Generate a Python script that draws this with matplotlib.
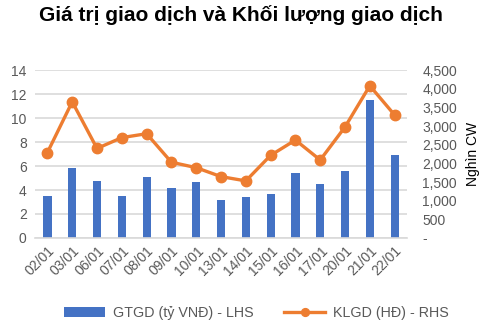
import matplotlib
matplotlib.use("Agg")
import matplotlib.pyplot as plt
from matplotlib.ticker import FuncFormatter, MultipleLocator

plt.rcParams['font.family'] = ['Liberation Sans', 'DejaVu Sans']

dates = ["02/01", "03/01", "06/01", "07/01", "08/01", "09/01", "10/01", "13/01",
         "14/01", "15/01", "16/01", "17/01", "20/01", "21/01", "22/01"]
gtgd = [3.5, 5.8, 4.75, 3.5, 5.05, 4.15, 4.67, 3.14, 3.42, 3.64, 5.42, 4.47, 5.58, 11.5, 6.92]
klgd = [2290, 3650, 2400, 2690, 2795, 2030, 1885, 1645, 1530, 2215, 2625, 2090, 2975, 4080, 3295]

bar_color = "#4472C4"
line_color = "#ED7D31"
text_color = "#595959"
grid_color = "#D9D9D9"

fig = plt.figure(figsize=(4.96, 3.26), dpi=100)
ax = fig.add_axes([0.0706, 0.27, 0.75, 0.515])
ax2 = ax.twinx()

x = list(range(len(dates)))
bars = ax.bar(x, gtgd, width=0.33, color=bar_color, zorder=2,
              label="GTGD (tỷ VNĐ) - LHS")
line, = ax2.plot(x, klgd, color=line_color, lw=2.4, marker="o", ms=7.5,
                 zorder=3, label="KLGD (HĐ) - RHS")

ax.set_xlim(-0.5, len(dates) - 0.5)
ax.set_ylim(0, 14)
ax.yaxis.set_major_locator(MultipleLocator(2))
ax2.set_ylim(0, 4500)
ax2.yaxis.set_major_locator(MultipleLocator(500))
ax2.yaxis.set_major_formatter(FuncFormatter(lambda v, p: "-" if v == 0 else f"{int(v):,}"))

ax.grid(axis="y", color=grid_color, lw=1.2, zorder=0)
ax.set_axisbelow(True)
for a in (ax, ax2):
    for s in a.spines.values():
        s.set_visible(False)
    a.tick_params(length=0, colors=text_color, labelsize=10)
ax.spines["bottom"].set_visible(True)
ax.spines["bottom"].set_color(grid_color)
ax.spines["bottom"].set_linewidth(1.2)

ax.set_xticks(x)
ax.set_xticklabels(dates, rotation=45, ha="right", rotation_mode="anchor")
ax.tick_params(axis="x", pad=4)
ax.tick_params(axis="y", pad=6)
ax2.tick_params(axis="y", pad=11)

ax2.set_ylabel("Nghìn CW", color="black", fontsize=10, labelpad=6)

fig.suptitle("Giá trị giao dịch và Khối lượng giao dịch", fontsize=15,
             fontweight="bold", color="black", x=0.486, y=0.985)

fig.legend(handles=[bars, line], loc="lower center", ncol=2, frameon=False,
           bbox_to_anchor=(0.517, -0.022), fontsize=10.3, labelcolor=text_color,
           handlelength=2.9, columnspacing=2.1, handletextpad=0.55,
           markerscale=0.75)

fig.savefig("out.png", dpi=100)
